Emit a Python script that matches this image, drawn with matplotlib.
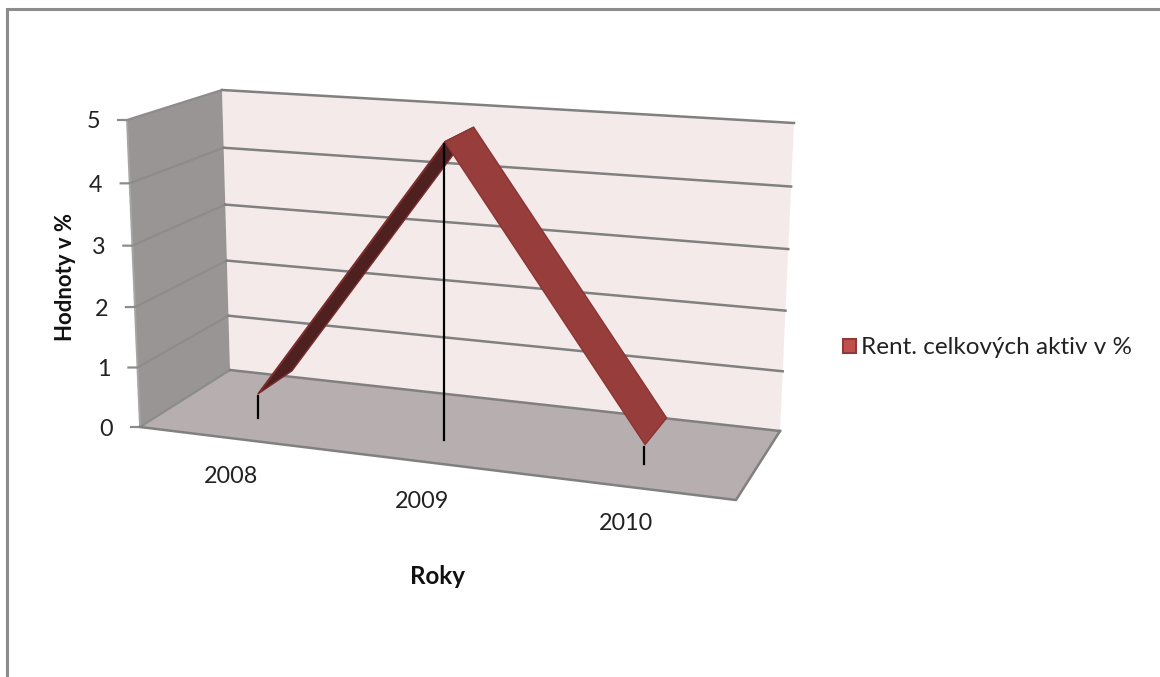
import numpy as np
import matplotlib
matplotlib.use("Agg")
import matplotlib.pyplot as plt
from matplotlib.patches import Patch, Polygon

years = ["2008", "2009", "2010"]
values = [0.41, 4.79, 0.31]
series_name = "Rent. celkových aktiv v %"
value_ticks = [0, 1, 2, 3, 4, 5]

plt.rcParams["font.family"] = ["Lato", "DejaVu Sans"]

# corners of the 3d box in pixels: front/back, bottom/top, left/right
fbl = np.array([140, 427.0])
ftl = np.array([127, 120.0])
bbl = np.array([230, 370.0])
btl = np.array([222, 90.0])
fbr = np.array([736, 500.0])
ftr = np.array([751, 162.0])
bbr = np.array([780, 431.0])
btr = np.array([794, 123.0])


def persp(t):
    # right side of the box is nearer, so categories spread out a bit
    return 0.89 * t / (1 - 0.11 * t)


def persp_v(v):
    # same for height, the top of the box is a little nearer
    return 0.962 * v / (1 - 0.038 * v)


def proj(u, v, d):
    w = persp_v(v)
    front = (1 - w) * ((1 - u) * fbl + u * fbr) + w * ((1 - u) * ftl + u * ftr)
    back = (1 - w) * ((1 - u) * bbl + u * bbr) + w * ((1 - u) * btl + u * btr)
    return (1 - d) * front + d * back


def cat_u(i):
    return persp((i + 0.5) / len(years))


fig = plt.figure(figsize=(11.6, 6.77), dpi=100)
ax = fig.add_axes([0, 0, 1, 1])
ax.set_xlim(0, 1160)
ax.set_ylim(677, 0)
ax.axis("off")

grid_col = "#808080"

# walls and floor
ax.add_patch(Polygon([btl, btr, bbr, bbl], fc="#f5eaea", ec="none", zorder=1))
ax.add_patch(Polygon([ftl, btl, bbl, fbl], fc="#9a9595", ec="none", zorder=1))
ax.add_patch(Polygon([fbl, bbl, bbr, fbr], fc="#b7afaf", ec="none", zorder=1))
ax.plot([ftl[0], fbl[0]], [ftl[1], fbl[1]], color="#a6a6a6", lw=1.4, zorder=1.5)

vmax = value_ticks[-1]
for val in value_ticks:
    v = val / vmax
    a = proj(0, v, 0)
    b = proj(0, v, 1)
    c = proj(1, v, 1)
    ax.plot([a[0] - 9, a[0], b[0]], [a[1], a[1], b[1]], color="#8c8c8c", lw=1.6, zorder=2, solid_joinstyle="miter")
    ax.plot([b[0], c[0]], [b[1], c[1]], color=grid_col, lw=1.8, zorder=2)
    ax.text(a[0] - 27, a[1] + 2, str(val), ha="right", va="center", fontsize=16.8, color="#222222")

# floor edges
ax.plot([fbl[0], fbr[0], bbr[0]], [fbl[1], fbr[1], bbr[1]], color=grid_col, lw=1.8, zorder=2)

# ribbon of the 3d line
d_front = 0.34
d_back = 0.75
front = [proj(cat_u(i), val / vmax, d_front) for i, val in enumerate(values)]
back = [proj(cat_u(i), val / vmax, d_back) for i, val in enumerate(values)]
edge = [proj(cat_u(i), val / vmax, d_front + 0.04) for i, val in enumerate(values)]

ax.add_patch(Polygon([front[0], back[0], back[1], front[1]], fc="#4f2020", ec="#7b2e2c", lw=1.0, zorder=3))
ax.add_patch(Polygon([front[0], edge[0], edge[1], front[1]], fc="#7b2e2c", ec="none", zorder=3.1))
ax.add_patch(Polygon([front[1], back[1], back[2], front[2]], fc="#973d3b", ec="#8a3533", lw=1.0, zorder=3.2))

# drop lines down to the floor
for i, val in enumerate(values):
    p = proj(cat_u(i), val / vmax, d_front)
    q = proj(cat_u(i), 0, d_front)
    ax.plot([q[0], q[0]], [p[1] + 2, q[1]], color="black", lw=1.6, zorder=4)

# category labels
label_offset = [(-27, 58), (-22, 61), (-18, 60)]
for i, yr in enumerate(years):
    q = proj(cat_u(i), 0, d_front)
    ax.text(q[0] + label_offset[i][0], q[1] + label_offset[i][1], yr, ha="center", va="center",
            fontsize=16.8, color="#222222")

ax.text(66, 277, "Hodnoty v %", rotation=90, ha="center", va="center", fontsize=15.9, fontweight="bold", color="#111111")
ax.text(438, 576, "Roky", ha="center", va="center", fontsize=17.4, fontweight="bold", color="#111111")

ax.legend(handles=[Patch(fc="#c0504d", ec="#8f3a38", lw=1.5, label=series_name)],
          loc="center left", bbox_to_anchor=(843 / 1160, 1 - 348 / 677), frameon=False,
          fontsize=17.5, handlelength=0.55, handleheight=0.55, handletextpad=0.2, borderpad=0, borderaxespad=0,
          labelcolor="#222222")

# outer border of the screenshot
ax.plot([7, 7, 1160], [677, 9, 9], color="#8c8c8c", lw=2.2, solid_joinstyle="miter", zorder=5)

fig.savefig("out.png", dpi=100)
